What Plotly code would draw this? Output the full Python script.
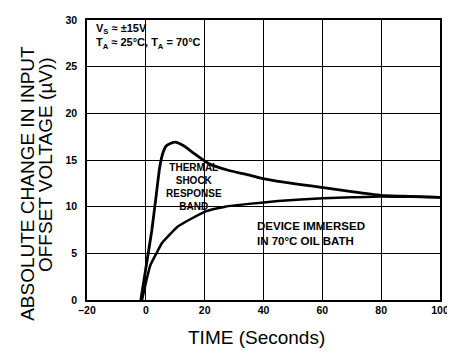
import plotly.graph_objects as go

# Upper curve (thermal shock response, top of band)
upper_x = [-1.7, 0, 2, 3.6, 4.7, 5.8, 6.9, 8.5, 10.3, 13, 16, 21.5, 28, 35, 38.4, 45, 52, 60.3, 70, 79.9, 90, 100]
upper_y = [0, 3.4, 7.4, 11.4, 14.2, 15.75, 16.5, 16.8, 16.9, 16.5, 15.8, 14.6, 13.9, 13.4, 13.1, 12.7, 12.4, 12.05, 11.6, 11.2, 11.1, 11.0]

# Lower curve (device immersed in 70°C oil bath)
lower_x = [-1.3, 0.2, 1.5, 3.6, 5.5, 8.1, 11, 14.8, 20.4, 27, 35, 45, 60.3, 70, 80, 90, 100]
lower_y = [0, 2.1, 3.7, 5.0, 6.1, 7.0, 7.9, 8.6, 9.5, 10.0, 10.3, 10.6, 10.9, 11.0, 11.1, 11.05, 11.0]

x_ticks = [-20, 0, 20, 40, 60, 80, 100]
y_ticks = [0, 5, 10, 15, 20, 25, 30]

FONT = "Arial, Liberation Sans, sans-serif"

fig = go.Figure()
fig.add_trace(go.Scatter(x=upper_x, y=upper_y, mode="lines",
                         line=dict(color="black", width=2.8, shape="spline", smoothing=0.5),
                         showlegend=False, hoverinfo="skip"))
fig.add_trace(go.Scatter(x=lower_x, y=lower_y, mode="lines",
                         line=dict(color="black", width=2.5, shape="spline", smoothing=0.5),
                         showlegend=False, hoverinfo="skip"))

fig.update_xaxes(range=[-20, 100], tickvals=x_ticks, ticktext=["\u201320" if v == -20 else str(v) for v in x_ticks],
                 showgrid=True, gridcolor="black", gridwidth=1,
                 showline=True, linecolor="black", linewidth=1.5, mirror=True,
                 zeroline=False, ticks="",
                 tickfont=dict(family=FONT, size=10.5, color="black", weight="bold"))
fig.update_yaxes(range=[0, 30], tickvals=y_ticks,
                 showgrid=True, gridcolor="black", gridwidth=1,
                 showline=True, linecolor="black", linewidth=1.5, mirror=True,
                 zeroline=False, ticks="", ticklabelstandoff=6,
                 tickfont=dict(family=FONT, size=10.5, color="black", weight="bold"))

ann = [
    dict(x=16.5, y=12.1, xref="x", yref="y",
         text="THERMAL<br>SHOCK<br>RESPONSE<br>BAND", showarrow=False,
         align="center", font=dict(family=FONT, size=10, color="black", weight="bold"),
         ),
    dict(x=37.0, y=7.1, xref="x", yref="y", xanchor="left",
         text="DEVICE IMMERSED<br>IN 70°C OIL BATH", showarrow=False,
         align="left", font=dict(family=FONT, size=11.5, color="black", weight="bold")),
    dict(x=-17.5, y=28.2, xref="x", yref="y", xanchor="left",
         text="V<sub>S</sub> ≈ ±15V<br>T<sub>A</sub> ≈ 25°C, T<sub>A</sub> = 70°C", showarrow=False,
         align="left", font=dict(family=FONT, size=11, color="black", weight="bold")),
    dict(x=-0.1685, y=12.5, xref="paper", yref="y", xanchor="center", yanchor="middle",
         text="ABSOLUTE CHANGE IN INPUT", textangle=-90, showarrow=False,
         font=dict(family=FONT, size=19, color="black")),
    dict(x=-0.118, y=14.5, xref="paper", yref="y", xanchor="center", yanchor="middle",
         text="OFFSET VOLTAGE (µV))", textangle=-90, showarrow=False,
         font=dict(family=FONT, size=19, color="black")),
    dict(x=37.5, y=-0.135, xref="x", yref="paper", xanchor="center", yanchor="middle",
         text="TIME (Seconds)", showarrow=False,
         font=dict(family=FONT, size=19, color="black")),
]
fig.update_layout(width=447, height=345, margin=dict(l=79, r=12, t=6, b=53),
                  plot_bgcolor="white", paper_bgcolor="white",
                  annotations=ann, font=dict(family=FONT))
fig.write_html("out.html")
